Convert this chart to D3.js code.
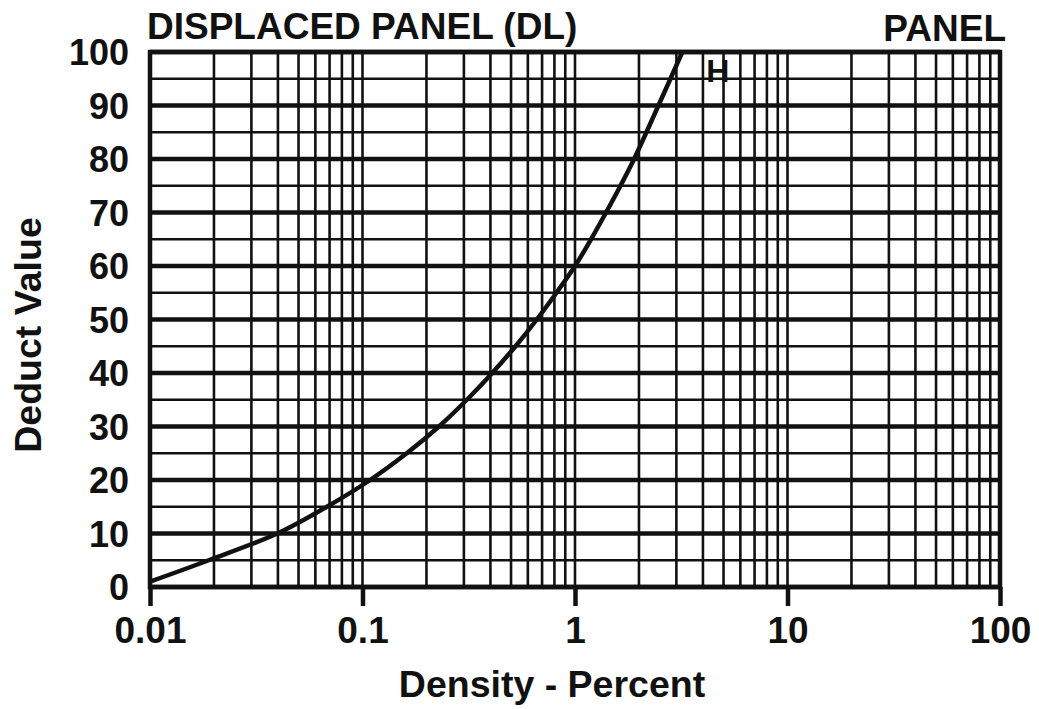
<!DOCTYPE html>
<html>
<head>
<meta charset="utf-8">
<script src="https://cdn.jsdelivr.net/npm/d3@7"></script>
<style>
  body { margin: 0; background: #fff; }
  text { font-family: "Liberation Sans", Arial, sans-serif; font-weight: bold; fill: #111; }
</style>
</head>
<body>
<div id="chart"></div>
<script>
const density = [0.01, 0.0189, 0.0397, 0.068, 0.1086, 0.1615, 0.229, 0.31, 0.408, 0.525, 0.661, 0.818, 1.0, 1.19, 1.40, 1.637, 1.897, 2.47, 3.2]
const deduct  = [1, 5, 10, 15, 20, 25, 30, 35, 40, 45, 50, 55, 60, 65, 70, 75, 80, 90, 100]

const xTicks = [0.01, 0.1, 1, 10, 100]
const xTickLabels = ["0.01", "0.1", "1", "10", "100"]
const yTicks = [0, 10, 20, 30, 40, 50, 60, 70, 80, 90, 100]
const yMinor = [5, 15, 25, 35, 45, 55, 65, 75, 85, 95]

const W = 1039, H = 709
const margin = {top: 52, right: 39, bottom: 122, left: 150}
const w = W - margin.left - margin.right,
      h = H - margin.top - margin.bottom

const svg = d3.select("#chart")
    .append("svg")
    .attr("width", W)
    .attr("height", H)

const g = svg.append("g")
    .attr("transform", `translate(${margin.left},${margin.top})`)

const x = d3.scaleLog().domain([0.01, 100]).range([0, w])
const y = d3.scaleLinear().domain([0, 100]).range([h, 0])

// every 1..9 line of each decade
const xMinor = []
for (let p = -2; p < 2; p++) {
    for (let k = 1; k < 10; k++) xMinor.push(k * Math.pow(10, p))
}

g.append("g")
    .selectAll("line")
    .data(xMinor)
    .join("line")
    .attr("x1", d => x(d)).attr("x2", d => x(d))
    .attr("y1", 0).attr("y2", h)
    .style("stroke", "#111")
    .style("stroke-width", 2.6)

g.append("g")
    .selectAll("line")
    .data(yMinor)
    .join("line")
    .attr("x1", 0).attr("x2", w)
    .attr("y1", d => y(d)).attr("y2", d => y(d))
    .style("stroke", "#111")
    .style("stroke-width", 2.4)

g.append("g")
    .selectAll("line")
    .data(yTicks)
    .join("line")
    .attr("x1", 0).attr("x2", w)
    .attr("y1", d => y(d)).attr("y2", d => y(d))
    .style("stroke", "#111")
    .style("stroke-width", 4.5)

// frame
g.append("rect")
    .attr("width", w)
    .attr("height", h)
    .style("fill", "none")
    .style("stroke", "#111")
    .style("stroke-width", 4.5)

// x axis
const xAxis = g.append("g")
    .attr("transform", `translate(0,${h})`)
    .call(d3.axisBottom(x)
        .tickValues(xTicks)
        .tickSize(19)
        .tickPadding(11)
        .tickFormat((d, i) => xTickLabels[i]))
xAxis.select(".domain").remove()
xAxis.selectAll(".tick line").style("stroke", "#111").style("stroke-width", 4.5)
xAxis.selectAll("text").style("font-size", "37px").style("fill", "#111")

// y axis
const yAxis = g.append("g")
    .call(d3.axisLeft(y)
        .tickValues(yTicks)
        .tickSize(0)
        .tickPadding(21))
yAxis.select(".domain").remove()
yAxis.selectAll("text").style("font-size", "36px").style("fill", "#111").attr("dy", "0.36em")

// curve
const line = d3.line()
    .x((d, i) => x(density[i]))
    .y(d => y(d))
    .curve(d3.curveCatmullRom.alpha(0.5))

g.append("path")
    .datum(deduct)
    .attr("d", line)
    .style("fill", "none")
    .style("stroke", "#111")
    .style("stroke-width", 4.5)

g.append("text")
    .attr("x", x(3.2) + 24)
    .attr("y", 30)
    .style("font-size", "32px")
    .text("H")

// titles
svg.append("text")
    .attr("x", 147)
    .attr("y", 39)
    .style("font-size", "37px")
    .text("DISPLACED PANEL (DL)")

svg.append("text")
    .attr("x", 1006)
    .attr("y", 41)
    .attr("text-anchor", "end")
    .style("font-size", "37px")
    .text("PANEL")

svg.append("text")
    .attr("x", 552)
    .attr("y", 697)
    .attr("text-anchor", "middle")
    .style("font-size", "37.5px")
    .text("Density - Percent")

svg.append("text")
    .attr("transform", `translate(41,335) rotate(-90)`)
    .attr("text-anchor", "middle")
    .style("font-size", "37.5px")
    .text("Deduct Value")
</script>
</body>
</html>
